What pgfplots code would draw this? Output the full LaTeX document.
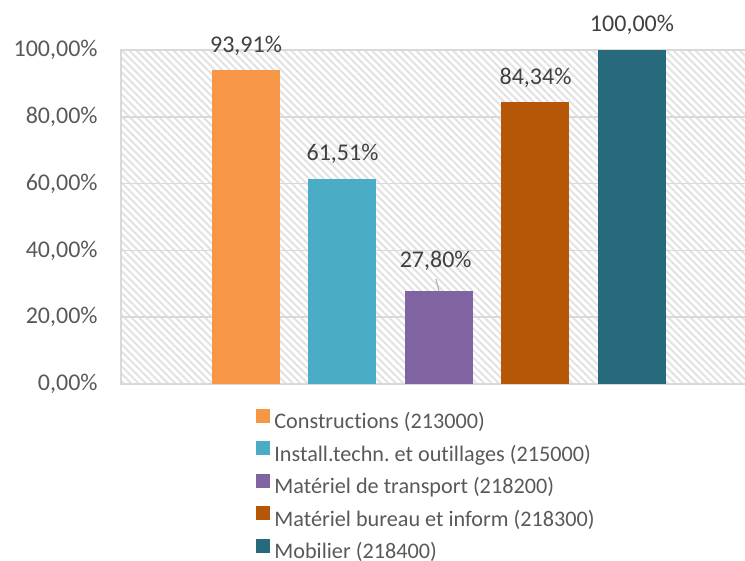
\documentclass[border=0pt]{standalone}
\usepackage{pgfplots}
\pgfplotsset{compat=1.18}
\usepackage{fontspec}
\setmainfont{Carlito}[Ligatures=NoCommon]
\usetikzlibrary{patterns.meta}

\definecolor{cOrange}{HTML}{F79646}
\definecolor{cCyan}{HTML}{4BACC6}
\definecolor{cPurple}{HTML}{8064A2}
\definecolor{cRust}{HTML}{B65708}
\definecolor{cTeal}{HTML}{276A7C}
\definecolor{txt}{HTML}{595959}
\definecolor{lbl}{HTML}{404040}
\definecolor{gridc}{HTML}{D9D9D9}
\definecolor{hatch}{HTML}{E2E2E2}

\pgfplotsset{
  onebar/.style={
    ybar, bar width=34pt, bar shift=0pt, draw=none, fill=#1,
    legend image code/.code={\fill[#1] (0pt,0pt) rectangle (7pt,7pt);},
  },
}

\begin{document}
\frenchspacing
\fontsize{12pt}{14pt}\selectfont
\begin{tikzpicture}
  \path[use as bounding box] (0,0) rectangle (372.5pt,280.5pt);
  \begin{axis}[
    at={(60.5pt,88.5pt)}, anchor=south west,
    scale only axis,
    width=313pt, height=167pt,
    xmin=-1.2953, xmax=5.192,
    ymin=0, ymax=100,
    xtick=\empty,
    ytick={0,20,40,60,80,100},
    yticklabels={{0,00\%},{20,00\%},{40,00\%},{60,00\%},{80,00\%},{100,00\%}},
    yticklabel style={text=txt, inner sep=0pt, anchor=east, xshift=-11.5pt},
    major tick length=0pt,
    ymajorgrids,
    grid style={gridc, line width=0.75pt},
    axis line style={gridc, line width=0.75pt},
    axis background/.style={pattern={Lines[angle=-45, distance=2.6pt, line width=1pt]}, pattern color=hatch},
    nodes near coords style={text=lbl, anchor=base, inner sep=0pt},
    legend style={
      at={(0.2163,-0.075)}, anchor=north west,
      draw=none, fill=none, inner sep=0pt, outer sep=0pt,
      column sep=2pt, row sep=3.8pt,
      font=\fontsize{11.1pt}{13pt}\selectfont,
      nodes={inner sep=0pt, text height=8.3pt, text depth=2.5pt, text=txt},
    },
    legend cell align=left,
  ]
    \addplot[onebar=cOrange, nodes near coords={93,91\%},
      every node near coord/.append style={yshift=9pt}]
      coordinates {(0,93.91)};
    \addlegendentry{Constructions (213000)}
    \addplot[onebar=cCyan, nodes near coords={61,51\%},
      every node near coord/.append style={yshift=9pt}]
      coordinates {(1,61.51)};
    \addlegendentry{Install.techn. et outillages (215000)}
    \addplot[onebar=cPurple, nodes near coords={27,80\%},
      every node near coord/.append style={yshift=11.85pt, xshift=-1.65pt}]
      coordinates {(2,27.80)};
    \addlegendentry{Matériel de transport (218200)}
    \addplot[onebar=cRust, nodes near coords={84,34\%},
      every node near coord/.append style={yshift=9pt}]
      coordinates {(3,84.34)};
    \addlegendentry{Matériel bureau et inform (218300)}
    \addplot[onebar=cTeal, nodes near coords={100,00\%},
      every node near coord/.append style={yshift=9pt}]
      coordinates {(4,100)};
    \addlegendentry{Mobilier (218400)}
    \draw[color=gray!60, line width=0.6pt] (axis cs:1.969,31.4) -- (axis cs:2,27.8);
  \end{axis}
\end{tikzpicture}
\end{document}
